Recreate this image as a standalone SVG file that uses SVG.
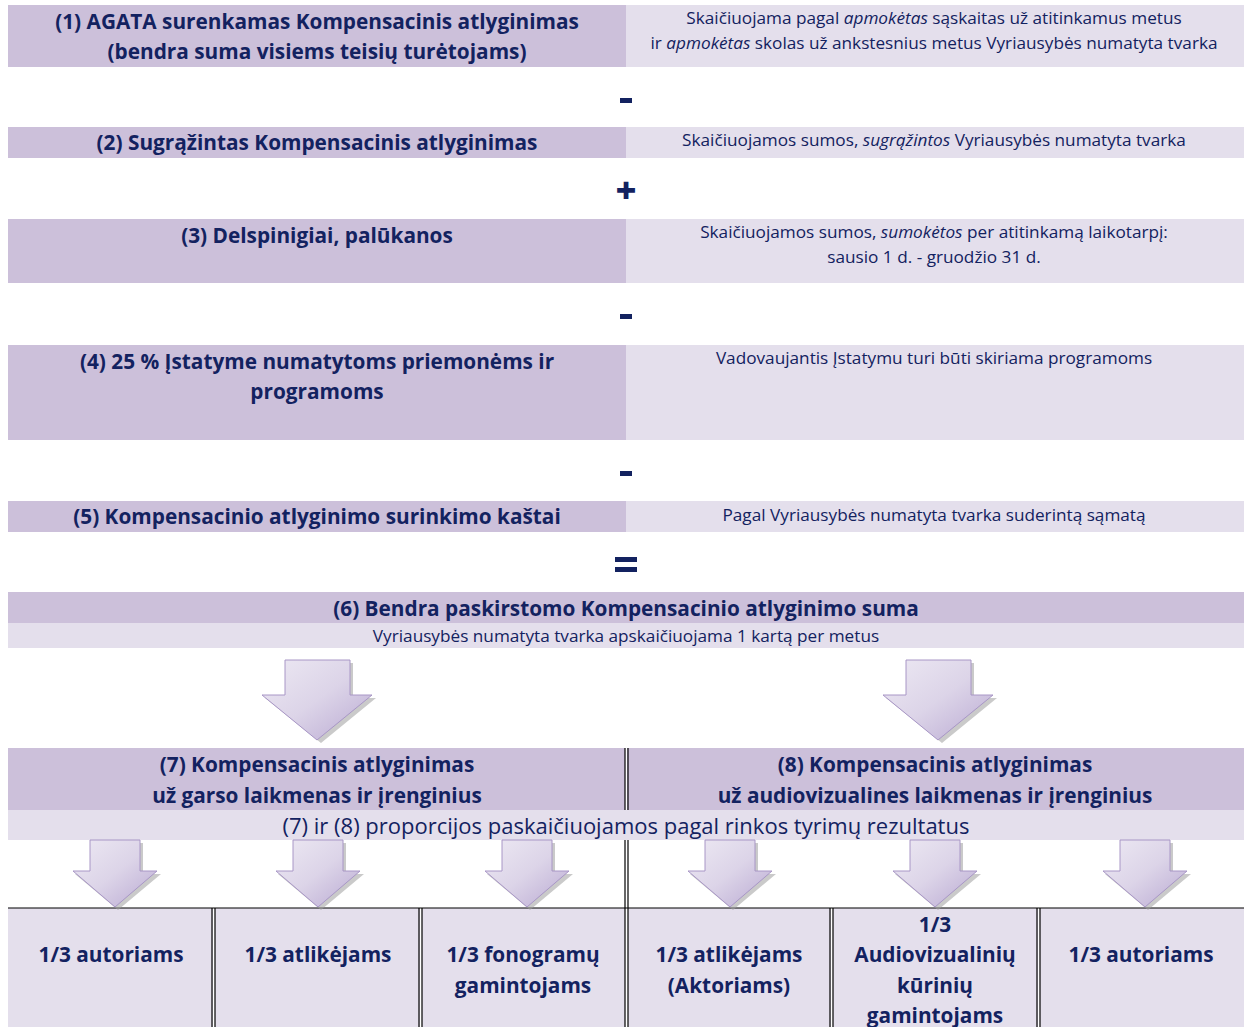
<svg xmlns="http://www.w3.org/2000/svg" width="1244" height="1027" viewBox="0 0 1244 1027">
<style>
.dk{fill:#CCC0DA}
.lt{fill:#E4DFEC}
.b{font-family:"Open Sans","Noto Sans",sans-serif;font-weight:bold;font-size:20.8px;fill:#132260;text-anchor:middle}
.r{font-family:"Open Sans","Noto Sans",sans-serif;font-size:17.2px;fill:#132260;text-anchor:middle}
.r2{font-family:"Open Sans","Noto Sans",sans-serif;font-size:22px;fill:#132260;text-anchor:middle}
.op{font-family:"Open Sans","Noto Sans",sans-serif;font-weight:800;font-size:36px;fill:#132260;text-anchor:middle}
.ln{stroke:#000;stroke-width:1.2;fill:none}
.arr{fill:url(#ag);stroke:#A896C6;stroke-width:1}
.sh{fill:#9E9E9E;opacity:0.55}
</style>
<defs>
<linearGradient id="ag" x1="0" y1="0" x2="1" y2="1">
<stop offset="0" stop-color="#EDE9F3"/>
<stop offset="0.5" stop-color="#DCD4E8"/>
<stop offset="1" stop-color="#B9A9D2"/>
</linearGradient>
<g id="bigA">
<polygon class="sh" points="26,3 91,3 91,38 114,38 59,83 3,38 26,38"/>
<polygon class="arr" points="23,0 88,0 88,35 110,35 55,80 0,35 23,35"/>
</g>
<g id="smA">
<polygon class="sh" points="20,3 70,3 70,34 88,34 45,70 2,34 20,34"/>
<polygon class="arr" points="17,0 67,0 67,31 84,31 42,67 0,31 17,31"/>
</g>
</defs>
<rect x="0" y="0" width="1244" height="1027" fill="#fff"/>

<g id="n1">
<rect class="dk" x="8" y="5" width="618" height="62"/>
<rect class="lt" x="626" y="5" width="618" height="62"/>
<text class="b" x="317" y="29">(1) AGATA surenkamas Kompensacinis atlyginimas</text>
<text class="b" x="317" y="59">(bendra suma visiems teisių turėtojams)</text>
<text class="r" x="934" y="24">Skaičiuojama pagal <tspan font-style="italic">apmokėtas</tspan> sąskaitas už atitinkamus metus</text>
<text class="r" x="934" y="49">ir <tspan font-style="italic">apmokėtas</tspan> skolas už ankstesnius metus Vyriausybės numatyta tvarka</text>
</g>

<g id="n2">
<rect class="dk" x="8" y="127" width="618" height="31"/>
<rect class="lt" x="626" y="127" width="618" height="31"/>
<text class="b" x="317" y="150">(2) Sugrąžintas Kompensacinis atlyginimas</text>
<text class="r" x="934" y="146">Skaičiuojamos sumos, <tspan font-style="italic">sugrąžintos</tspan> Vyriausybės numatyta tvarka</text>
</g>

<g id="n3">
<rect class="dk" x="8" y="219" width="618" height="64"/>
<rect class="lt" x="626" y="219" width="618" height="64"/>
<text class="b" x="317" y="243">(3) Delspinigiai, palūkanos</text>
<text class="r" x="934" y="238">Skaičiuojamos sumos, <tspan font-style="italic">sumokėtos</tspan> per atitinkamą laikotarpį:</text>
<text class="r" x="934" y="263">sausio 1 d. - gruodžio 31 d.</text>
</g>

<g id="n4">
<rect class="dk" x="8" y="345" width="618" height="95"/>
<rect class="lt" x="626" y="345" width="618" height="95"/>
<text class="b" x="317" y="369">(4) 25 % Įstatyme numatytoms priemonėms ir</text>
<text class="b" x="317" y="399">programoms</text>
<text class="r" x="934" y="364">Vadovaujantis Įstatymu turi būti skiriama programoms</text>
</g>

<g id="n5">
<rect class="dk" x="8" y="501" width="618" height="31"/>
<rect class="lt" x="626" y="501" width="618" height="31"/>
<text class="b" x="317" y="524">(5) Kompensacinio atlyginimo surinkimo kaštai</text>
<text class="r" x="934" y="521">Pagal Vyriausybės numatyta tvarka suderintą sąmatą</text>
</g>

<g id="operators">
<rect x="620" y="98" width="12" height="5" fill="#132260"/>
<text class="op" x="626" y="203">+</text>
<rect x="620" y="314" width="12" height="5" fill="#132260"/>
<rect x="620" y="471" width="12" height="5" fill="#132260"/>
<rect x="615" y="557" width="22" height="5" fill="#132260"/>
<rect x="615" y="567" width="22" height="5" fill="#132260"/>
</g>

<g id="n6">
<rect class="dk" x="8" y="592" width="1236" height="31"/>
<rect class="lt" x="8" y="623" width="1236" height="25"/>
<text class="b" x="626" y="616">(6) Bendra paskirstomo Kompensacinio atlyginimo suma</text>
<text class="r" x="626" y="642">Vyriausybės numatyta tvarka apskaičiuojama 1 kartą per metus</text>
</g>

<g id="n7">
<rect class="dk" x="8" y="748" width="617" height="62"/>
<text class="b" x="317" y="772">(7) Kompensacinis atlyginimas</text>
<text class="b" x="317" y="803">už garso laikmenas ir įrenginius</text>
</g>
<g id="n8">
<rect class="dk" x="627" y="748" width="617" height="62"/>
<text class="b" x="935" y="772">(8) Kompensacinis atlyginimas</text>
<text class="b" x="935" y="803">už audiovizualines laikmenas ir įrenginius</text>
</g>
<g id="note78">
<rect class="lt" x="8" y="810" width="1236" height="30"/>
<text class="r2" x="626" y="834">(7) ir (8) proporcijos paskaičiuojamos pagal rinkos tyrimų rezultatus</text>
</g>

<g id="b1">
<rect class="lt" x="8" y="908" width="205" height="119"/>
<text class="b" x="111" y="962">1/3 autoriams</text>
</g>
<g id="b2">
<rect class="lt" x="215" y="908" width="205" height="119"/>
<text class="b" x="318" y="962">1/3 atlikėjams</text>
</g>
<g id="b3">
<rect class="lt" x="422" y="908" width="203" height="119"/>
<text class="b" x="523" y="962">1/3 fonogramų</text>
<text class="b" x="523" y="993">gamintojams</text>
</g>
<g id="b4">
<rect class="lt" x="628" y="908" width="203" height="119"/>
<text class="b" x="729" y="962">1/3 atlikėjams</text>
<text class="b" x="729" y="993">(Aktoriams)</text>
</g>
<g id="b5">
<rect class="lt" x="833" y="908" width="205" height="119"/>
<text class="b" x="935" y="932">1/3</text>
<text class="b" x="935" y="962">Audiovizualinių</text>
<text class="b" x="935" y="993">kūrinių</text>
<text class="b" x="935" y="1023">gamintojams</text>
</g>
<g id="b6">
<rect class="lt" x="1040" y="908" width="204" height="119"/>
<text class="b" x="1141" y="962">1/3 autoriams</text>
</g>

<g id="lines">
<line class="ln" x1="8" y1="908" x2="1244" y2="908" stroke-width="2"/>
<line class="ln" x1="625" y1="748" x2="625" y2="810"/>
<line class="ln" x1="628" y1="748" x2="628" y2="810"/>
<line class="ln" x1="625" y1="840" x2="625" y2="1027"/>
<line class="ln" x1="628" y1="840" x2="628" y2="1027"/>
<line class="ln" x1="212" y1="908" x2="212" y2="1027"/>
<line class="ln" x1="215" y1="908" x2="215" y2="1027"/>
<line class="ln" x1="419" y1="908" x2="419" y2="1027"/>
<line class="ln" x1="422" y1="908" x2="422" y2="1027"/>
<line class="ln" x1="830" y1="908" x2="830" y2="1027"/>
<line class="ln" x1="833" y1="908" x2="833" y2="1027"/>
<line class="ln" x1="1037" y1="908" x2="1037" y2="1027"/>
<line class="ln" x1="1040" y1="908" x2="1040" y2="1027"/>
</g>

<g id="connectors">
<use href="#bigA" x="262" y="660"/>
<use href="#bigA" x="883" y="660"/>
<use href="#smA" x="73" y="840"/>
<use href="#smA" x="276" y="840"/>
<use href="#smA" x="485" y="840"/>
<use href="#smA" x="688" y="840"/>
<use href="#smA" x="893" y="840"/>
<use href="#smA" x="1103" y="840"/>
</g>
</svg>
